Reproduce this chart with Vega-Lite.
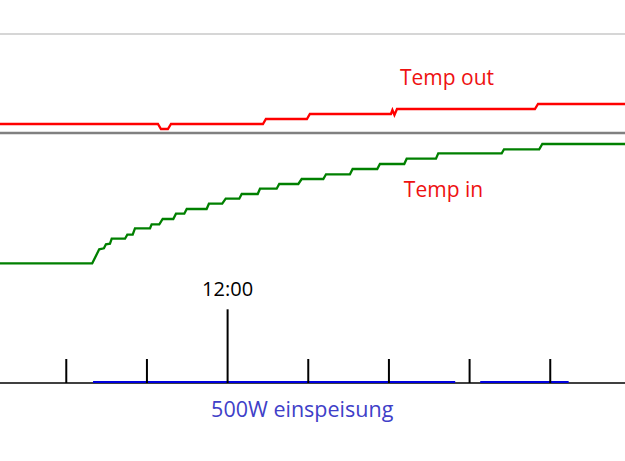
{
  "$schema": "https://vega.github.io/schema/vega-lite/v6.json",
  "description": "Temp out / Temp in over the day, with 500W feed-in periods",
  "width": 625,
  "height": 461,
  "autosize": {"type": "none"},
  "padding": 0,
  "background": "white",
  "config": {"view": {"stroke": null}},
  "encoding": {
    "x": {"field": "t", "type": "quantitative", "scale": {"domain": [550.7, 1015.6], "nice": false, "zero": false}, "axis": null},
    "y": {"field": "temp", "type": "quantitative", "scale": {"domain": [-12.8, 33.3], "nice": false, "zero": false}, "axis": null}
  },
  "layer": [
    {
      "data": {"values": [{"temp": 29.9}]},
      "mark": {"type": "rule", "color": "#c8c8c8", "strokeWidth": 1.5},
      "encoding": {"x": null}
    },
    {
      "data": {"values": [{"temp": 20}]},
      "mark": {"type": "rule", "color": "#808080", "strokeWidth": 2.5},
      "encoding": {"x": null}
    },
    {
      "data": {"values": [
        {"series": "Temp out", "t": 550.7, "temp": 20.9},
        {"series": "Temp out", "t": 668.2, "temp": 20.9},
        {"series": "Temp out", "t": 670.4, "temp": 20.4},
        {"series": "Temp out", "t": 675.6, "temp": 20.4},
        {"series": "Temp out", "t": 677.9, "temp": 20.9},
        {"series": "Temp out", "t": 746.3, "temp": 20.9},
        {"series": "Temp out", "t": 748.5, "temp": 21.4},
        {"series": "Temp out", "t": 779.0, "temp": 21.4},
        {"series": "Temp out", "t": 781.2, "temp": 21.9},
        {"series": "Temp out", "t": 841.5, "temp": 21.9},
        {"series": "Temp out", "t": 842.6, "temp": 22.3},
        {"series": "Temp out", "t": 844.1, "temp": 21.8},
        {"series": "Temp out", "t": 846.0, "temp": 22.4},
        {"series": "Temp out", "t": 948.6, "temp": 22.4},
        {"series": "Temp out", "t": 950.9, "temp": 22.9},
        {"series": "Temp out", "t": 1015.6, "temp": 22.9},
        {"series": "Temp in", "t": 550.7, "temp": 6.97},
        {"series": "Temp in", "t": 619.3, "temp": 6.97},
        {"series": "Temp in", "t": 624.5, "temp": 8.37},
        {"series": "Temp in", "t": 628.0, "temp": 8.47},
        {"series": "Temp in", "t": 629.5, "temp": 8.87},
        {"series": "Temp in", "t": 632.5, "temp": 8.93},
        {"series": "Temp in", "t": 633.8, "temp": 9.43},
        {"series": "Temp in", "t": 643.7, "temp": 9.43},
        {"series": "Temp in", "t": 645.4, "temp": 9.83},
        {"series": "Temp in", "t": 649.4, "temp": 9.83},
        {"series": "Temp in", "t": 651.1, "temp": 10.47},
        {"series": "Temp in", "t": 662.3, "temp": 10.47},
        {"series": "Temp in", "t": 663.5, "temp": 10.87},
        {"series": "Temp in", "t": 669.2, "temp": 10.87},
        {"series": "Temp in", "t": 671.7, "temp": 11.4},
        {"series": "Temp in", "t": 679.6, "temp": 11.4},
        {"series": "Temp in", "t": 681.6, "temp": 11.93},
        {"series": "Temp in", "t": 687.8, "temp": 11.93},
        {"series": "Temp in", "t": 689.6, "temp": 12.4},
        {"series": "Temp in", "t": 704.4, "temp": 12.4},
        {"series": "Temp in", "t": 706.1, "temp": 12.93},
        {"series": "Temp in", "t": 716.0, "temp": 12.93},
        {"series": "Temp in", "t": 718.6, "temp": 13.43},
        {"series": "Temp in", "t": 728.7, "temp": 13.43},
        {"series": "Temp in", "t": 730.5, "temp": 13.9},
        {"series": "Temp in", "t": 742.4, "temp": 13.9},
        {"series": "Temp in", "t": 744.1, "temp": 14.43},
        {"series": "Temp in", "t": 756.5, "temp": 14.43},
        {"series": "Temp in", "t": 758.4, "temp": 14.9},
        {"series": "Temp in", "t": 772.6, "temp": 14.9},
        {"series": "Temp in", "t": 775.1, "temp": 15.4},
        {"series": "Temp in", "t": 791.2, "temp": 15.4},
        {"series": "Temp in", "t": 793.2, "temp": 15.87},
        {"series": "Temp in", "t": 811.0, "temp": 15.87},
        {"series": "Temp in", "t": 813.0, "temp": 16.4},
        {"series": "Temp in", "t": 831.3, "temp": 16.4},
        {"series": "Temp in", "t": 833.3, "temp": 16.9},
        {"series": "Temp in", "t": 851.4, "temp": 16.9},
        {"series": "Temp in", "t": 853.2, "temp": 17.43},
        {"series": "Temp in", "t": 875.0, "temp": 17.43},
        {"series": "Temp in", "t": 876.7, "temp": 17.97},
        {"series": "Temp in", "t": 923.9, "temp": 17.97},
        {"series": "Temp in", "t": 925.6, "temp": 18.37},
        {"series": "Temp in", "t": 951.8, "temp": 18.37},
        {"series": "Temp in", "t": 954.1, "temp": 18.9},
        {"series": "Temp in", "t": 1015.6, "temp": 18.9}
      ]},
      "mark": {"type": "line", "strokeWidth": 2.3},
      "encoding": {
        "color": {"field": "series", "type": "nominal", "scale": {"domain": ["Temp out", "Temp in"], "range": ["#ff0000", "#008000"]}, "legend": null},
        "order": {"field": "t", "type": "quantitative"}
      }
    },
    {
      "data": {"values": [{"temp": -5}]},
      "mark": {"type": "rule", "color": "black", "strokeWidth": 1.5},
      "encoding": {"x": null}
    },
    {
      "data": {"values": [
        {"t": 619.9, "end": 889.3, "temp": -4.9},
        {"t": 907.9, "end": 973.7, "temp": -4.9}
      ]},
      "mark": {"type": "rule", "color": "#0000dd", "strokeWidth": 2},
      "encoding": {"x2": {"field": "end"}}
    },
    {
      "data": {"values": [
        {"t": 600, "temp": -5, "top": -2.6},
        {"t": 660, "temp": -5, "top": -2.6},
        {"t": 720, "temp": -5, "top": 2.37},
        {"t": 780, "temp": -5, "top": -2.6},
        {"t": 840, "temp": -5, "top": -2.6},
        {"t": 900, "temp": -5, "top": -2.6},
        {"t": 960, "temp": -5, "top": -2.6}
      ]},
      "mark": {"type": "rule", "color": "black", "strokeWidth": 2},
      "encoding": {"y2": {"field": "top"}}
    },
    {
      "data": {"values": [{"t": 720, "temp": 3.75, "label": "12:00"}]},
      "mark": {"type": "text", "font": "Open Sans", "fontSize": 20, "color": "black", "align": "center", "baseline": "alphabetic"},
      "encoding": {"text": {"field": "label"}}
    },
    {
      "data": {"values": [{"t": 883.2, "temp": 24.8, "label": "Temp out"}, {"t": 880.6, "temp": 13.6, "label": "Temp in"}]},
      "mark": {"type": "text", "font": "Open Sans", "fontSize": 21, "color": "#ee1111", "align": "center", "baseline": "alphabetic"},
      "encoding": {"text": {"field": "label"}}
    },
    {
      "data": {"values": [{"t": 775.5, "temp": -8.35, "label": "500W einspeisung"}]},
      "mark": {"type": "text", "font": "Open Sans", "fontSize": 21.5, "color": "#4040c8", "align": "center", "baseline": "alphabetic"},
      "encoding": {"text": {"field": "label"}}
    }
  ]
}
